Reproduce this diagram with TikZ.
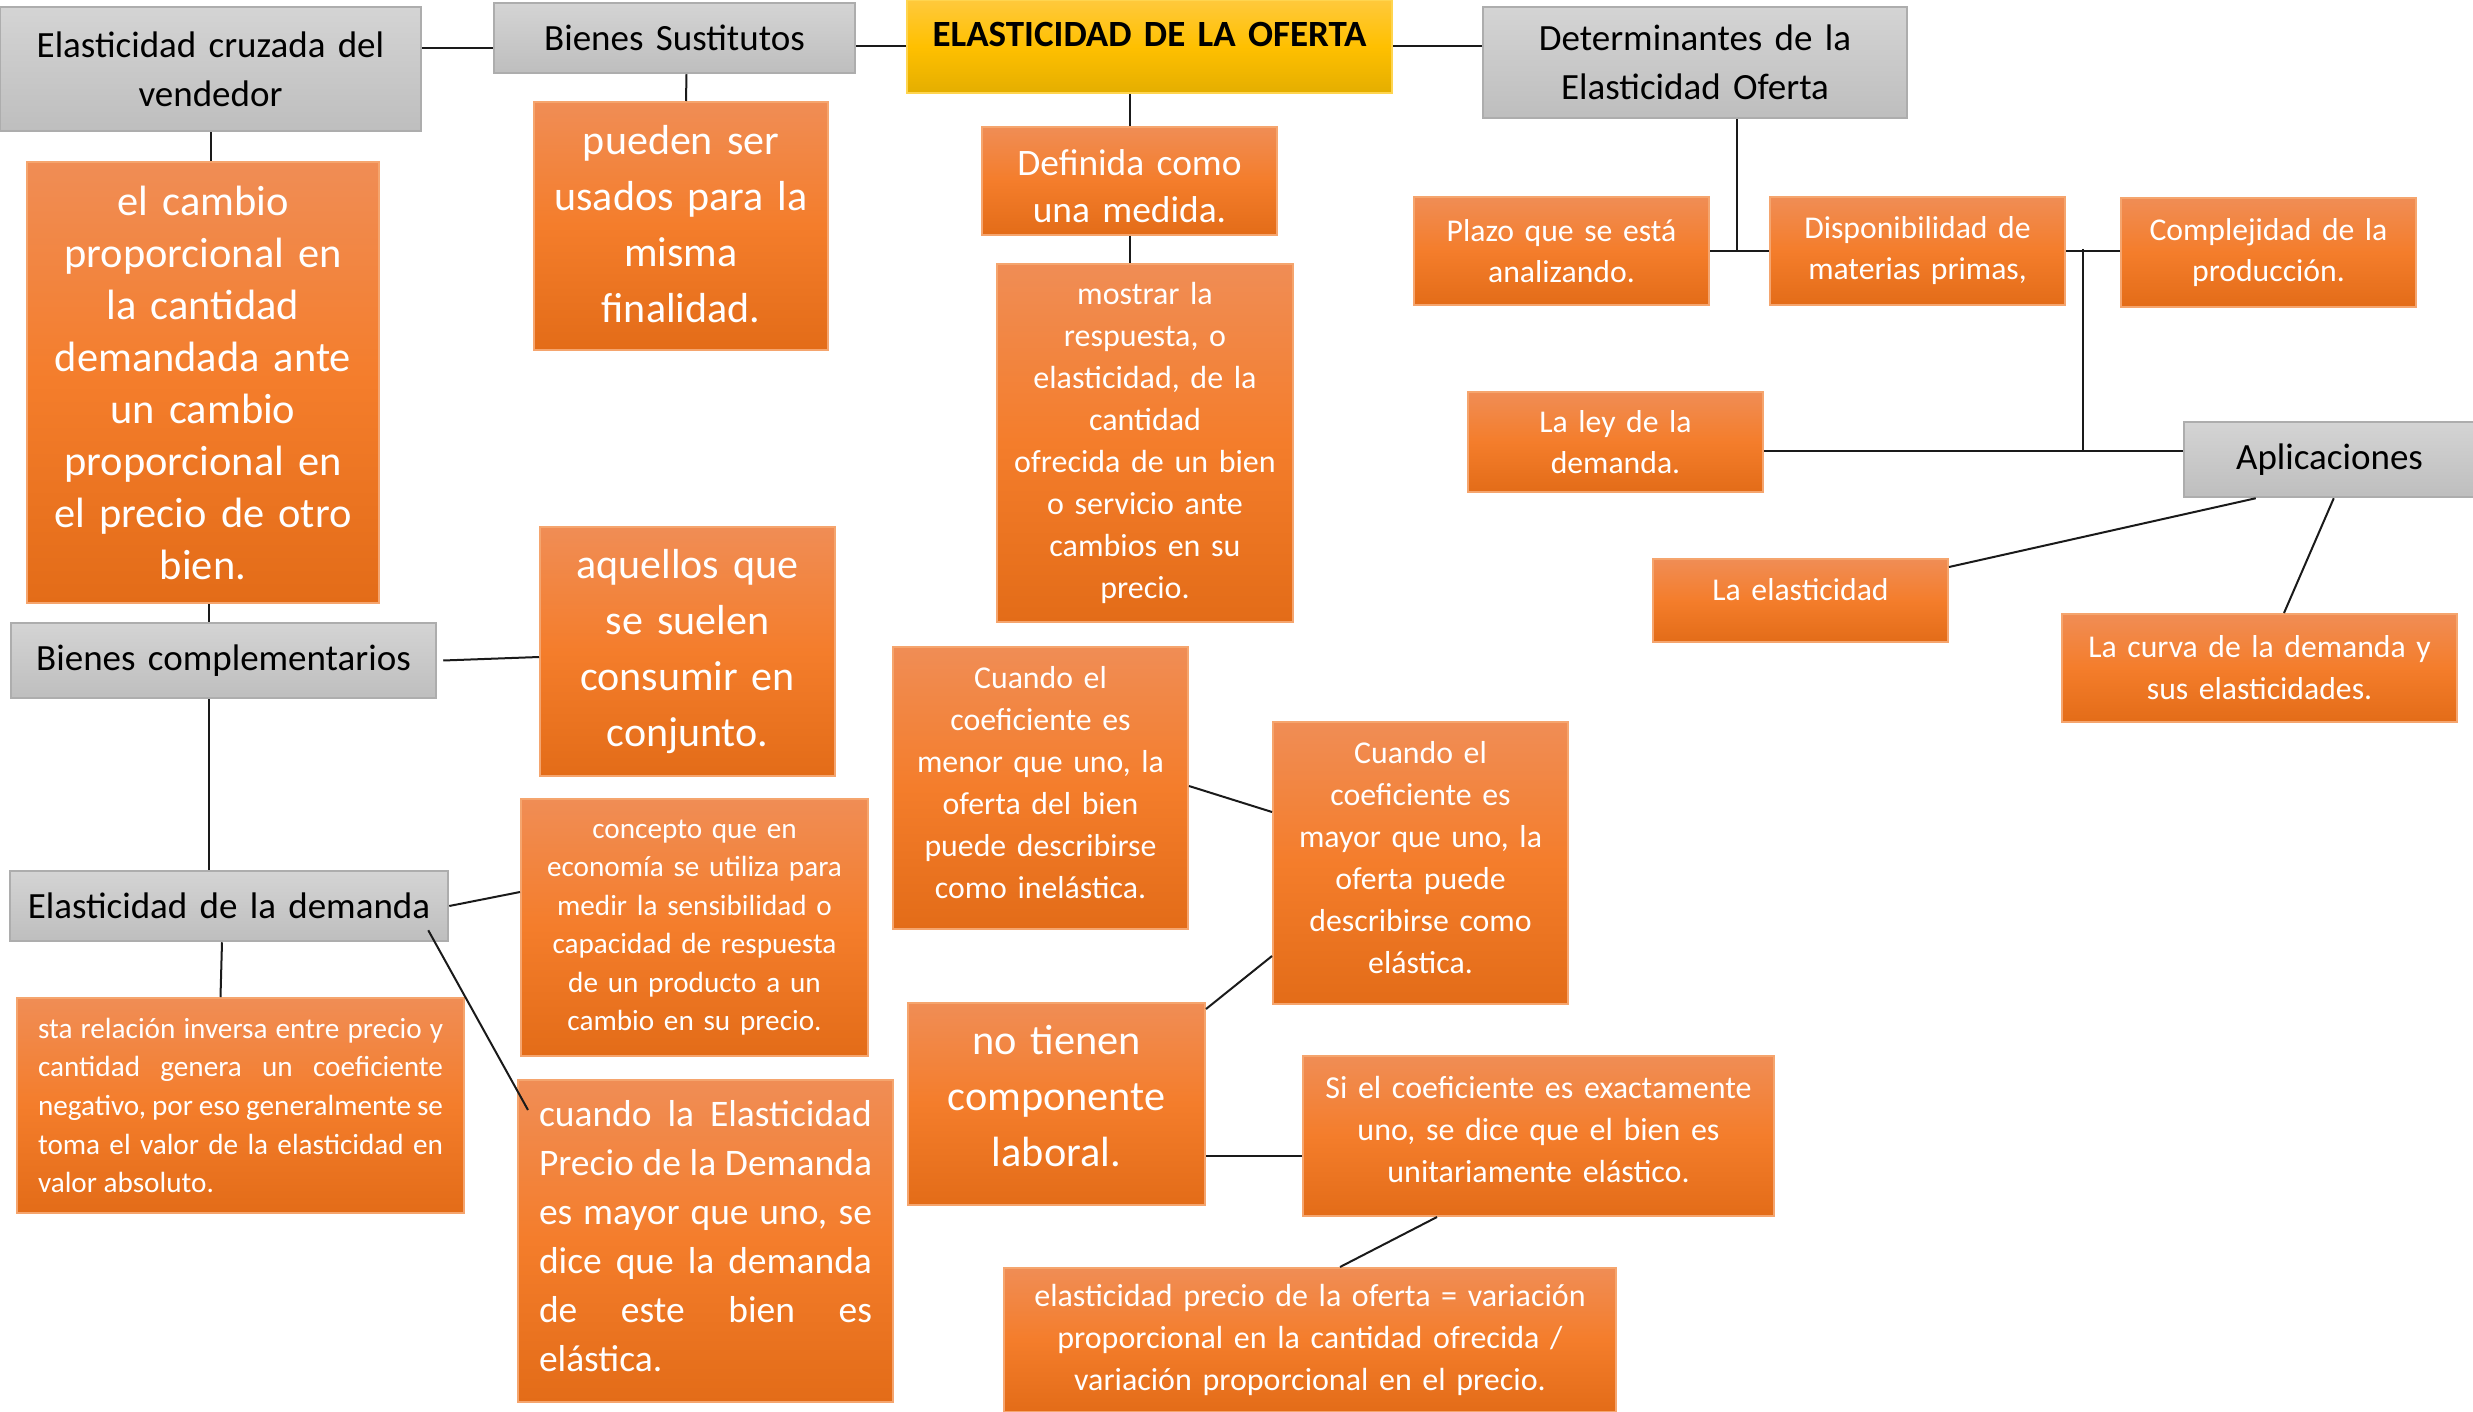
\documentclass[tikz,border=0pt]{standalone}
\usepackage{fontspec}
\setmainfont{Carlito}
\usetikzlibrary{calc}
\definecolor{oTop}{HTML}{F08D55}
\definecolor{oMid}{HTML}{F47D2B}
\definecolor{oBot}{HTML}{E36C18}
\definecolor{oBord}{HTML}{F5A56E}
\definecolor{gTop}{HTML}{D4D4D4}
\definecolor{gBot}{HTML}{BEBEBE}
\definecolor{gBord}{HTML}{ADADAD}
\definecolor{yTop}{HTML}{FFC93C}
\definecolor{yMid}{HTML}{FFC000}
\definecolor{yBot}{HTML}{E4AE00}
\definecolor{yBord}{HTML}{FFD54F}
\definecolor{lnk}{HTML}{1A1A1A}
\tikzset{
  obox/.style={draw=oBord, line width=2pt, top color=oTop, bottom color=oBot, middle color=oMid, text=white, inner sep=0pt, align=center},
  gbox/.style={draw=gBord, line width=2.5pt, top color=gTop, bottom color=gBot, text=black, inner sep=0pt, align=center},
  ybox/.style={draw=yBord, line width=2pt, top color=yTop, bottom color=yBot, middle color=yMid, text=black, inner sep=0pt, align=center},
  jbox/.style={obox, align=justify},
  link/.style={draw=lnk, line width=2pt}
}
\newcommand\mkbox[8]{%
  \pgfmathsetmacro\bxw{#5-#3}\pgfmathsetmacro\bxh{#6-#4}\pgfmathsetmacro\bxtw{#5-#3-6}%
  \pgfmathsetmacro\bxcx{(#3+#5)/2}\pgfmathsetmacro\bxcy{(#4+#6)/2}%
  \node[minimum width=\bxw pt, minimum height=\bxh pt, text width=\bxtw pt, font=#7, #2] (#1) at (\bxcx,\bxcy) {#8};}
\newcommand\zb[1]{\raisebox{0pt}[0pt][0pt]{#1}}
\newcommand\fz[2]{\fontsize{#1}{#2}\selectfont}
\newcommand\up[1]{\par\vspace{#1pt}}
\begin{document}
\begin{tikzpicture}[x=1pt,y=-1pt]
\useasboundingbox (0,0) rectangle (2473,1412);
% gray boxes
\mkbox{cruz}{gbox}{0}{7}{421}{131}{\fz{37}{49}}{Elasticidad cruzada del\\vendedor}
\mkbox{sust}{gbox}{494}{3}{855}{73}{\fz{37}{49}}{Bienes Sustitutos}
\mkbox{determ}{gbox}{1483}{7}{1907}{118}{\fz{37}{49}}{Determinantes de la\\Elasticidad Oferta}
\mkbox{aplic}{gbox}{2184}{422}{2475}{497}{\fz{37}{49}}{Aplicaciones}
\mkbox{complem}{gbox}{11}{623}{436}{698}{\fz{37}{49}}{Bienes complementarios}
\mkbox{elastdem}{gbox}{10}{871}{448}{941}{\fz{37}{49}}{Elasticidad de la demanda}
% yellow
\mkbox{ofer}{ybox}{907}{0}{1392}{93}{\fz{37}{49}\bfseries}{\zb{ELASTICIDAD DE LA OFERTA}}
% orange boxes
\mkbox{pueden}{obox}{534}{102}{828}{350}{\fz{42}{56}}{pueden ser\\usados para la\\misma\\finalidad.\up{4}}
\mkbox{cambio}{obox}{27}{162}{379}{603}{\fz{42.4}{52}}{el cambio\\proporcional en\\la cantidad\\demandada ante\\un cambio\\proporcional en\\el precio de otro\\bien.}
\mkbox{defin}{obox}{982}{127}{1277}{235}{\fz{37.4}{47}}{Definida como\\una medida.\up{-10}}
\mkbox{mostrar}{obox}{997}{264}{1293}{622}{\fz{32}{42}}{mostrar la\\respuesta, o\\elasticidad, de la\\cantidad\\ofrecida de un bien\\o servicio ante\\cambios en su\\precio.}
\mkbox{plazo}{obox}{1414}{197}{1709}{305}{\fz{31.7}{41}}{Plazo que se está\\analizando.}
\mkbox{dispon}{obox}{1770}{197}{2065}{305}{\fz{31.7}{41}}{Disponibilidad de\\materias primas,}
\mkbox{complej}{obox}{2121}{198}{2416}{307}{\fz{31.7}{41}}{Complejidad de la\\producción.}
\mkbox{ley}{obox}{1468}{392}{1763}{492}{\fz{31.7}{41}}{La ley de la\\demanda.}
\mkbox{laelast}{obox}{1653}{559}{1948}{642}{\fz{31.7}{41}}{\zb{La elasticidad}}
\mkbox{curva}{obox}{2062}{614}{2457}{722}{\fz{31.7}{42}}{La curva de la demanda y\\sus elasticidades.}
\mkbox{aquellos}{obox}{540}{527}{835}{776}{\fz{42}{56}}{aquellos que\\se suelen\\consumir en\\conjunto.}
\mkbox{concepto}{obox}{521}{799}{868}{1056}{\fz{29.2}{38.5}}{concepto que en\\economía se utiliza para\\medir la sensibilidad o\\capacidad de respuesta\\de un producto a un\\cambio en su precio.}
\mkbox{menor}{obox}{893}{647}{1188}{929}{\fz{31.8}{42}}{Cuando el\\coeficiente es\\menor que uno, la\\oferta del bien\\puede describirse\\como inelástica.\up{10}}
\mkbox{mayor}{obox}{1273}{722}{1568}{1004}{\fz{31.8}{42}}{Cuando el\\coeficiente es\\mayor que uno, la\\oferta puede\\describirse como\\elástica.\up{10}}
\mkbox{notienen}{obox}{908}{1003}{1205}{1205}{\fz{42.3}{56}}{no tienen\\componente\\laboral.\up{16}}
\mkbox{siel}{obox}{1303}{1056}{1774}{1216}{\fz{32}{42}}{Si el coeficiente es exactamente\\uno, se dice que el bien es\\unitariamente elástico.\up{12}}
\mkbox{elprecio}{obox}{1004}{1268}{1616}{1412}{\fz{32}{42}}{elasticidad precio de la oferta = variación\\proporcional en la cantidad ofrecida /\\variación proporcional en el precio.}
\mkbox{starel}{jbox, text width=405pt}{17}{998}{464}{1213}{\fz{29.2}{38.6}}{sta relación inversa entre precio y\linebreak cantidad genera un coeficiente\linebreak negativo, por eso generalmente se\linebreak toma el valor de la elasticidad en\linebreak valor absoluto.}
\mkbox{cuando}{jbox, text width=333pt}{518}{1080}{893}{1402}{\fz{37.5}{49}}{cuando la Elasticidad\linebreak Precio de la Demanda\linebreak es mayor que uno, se\linebreak dice que la demanda\linebreak de este bien es\linebreak elástica.\up{10}}
% connectors
\draw[link] ($(cruz.north east)+(0,42)$) -- ($(sust.north west)+(0,46)$);
\draw[link] (sust.east |- ofer.west) -- (ofer.west);
\draw[link] (ofer.east) -- (determ.west |- ofer.east);
\draw[link] (cruz.south) -- (cruz.south |- cambio.north);
\draw[link] ($(sust.south)+(12,0)$) -- ($(pueden.north)+(5,0)$);
\draw[link] (defin.north |- ofer.south) -- (defin.north);
\draw[link] (defin.south) -- (defin.south |- mostrar.north);
\draw[link] ($(cambio.south)+(6,0)$) -- ($(complem.north)+(-14.5,0)$);
\draw[link] ($(complem.south)+(-14.5,0)$) -- ($(elastdem.north)+(-20,0)$);
\draw[link] ($(complem.east)+(6,0)$) -- ($(aquellos.west)+(0,5.5)$);
\draw[link] (elastdem.east) -- ($(concepto.north west)+(0,94)$);
\draw[link] ($(elastdem.south east)+(-21,-12)$) -- ($(cuando.north west)+(11,31)$);
\draw[link] ($(elastdem.south)+(-7,0)$) -- ($(starel.north)+(-20,0)$);
\draw[link] ($(menor.north east)+(0,140)$) -- ($(mayor.north west)+(0,91)$);
\draw[link] ($(notienen.north east)+(0,7)$) -- ($(mayor.south west)+(0,-49)$);
\draw[link] ($(notienen.east)+(0,52)$) -- ($(siel.west)+(0,20)$);
\draw[link] ($(siel.south west)+(135,0)$) -- ($(elprecio.north west)+(337,0)$);
\coordinate (dj) at ($(determ.south)+(42,0)$);
\draw[link] (dj) -- (dj |- plazo.east);
\draw[link] (plazo.east) -- (dispon.west);
\draw[link] (dispon.east) -- (complej.west |- dispon.east);
\coordinate (aj) at ($(dispon.east)+(17,-2)$);
\coordinate (ah) at ($(aplic.west)+(0,-8.5)$);
\draw[link] (aj) -- (aj |- ah);
\draw[link] (ley.east |- ah) -- (ah);
\draw[link] ($(aplic.south west)+(73,0)$) -- ($(laelast.north east)+(0,9)$);
\draw[link] ($(aplic.south west)+(151,0)$) -- ($(curva.north west)+(223,0)$);
\end{tikzpicture}
\end{document}
